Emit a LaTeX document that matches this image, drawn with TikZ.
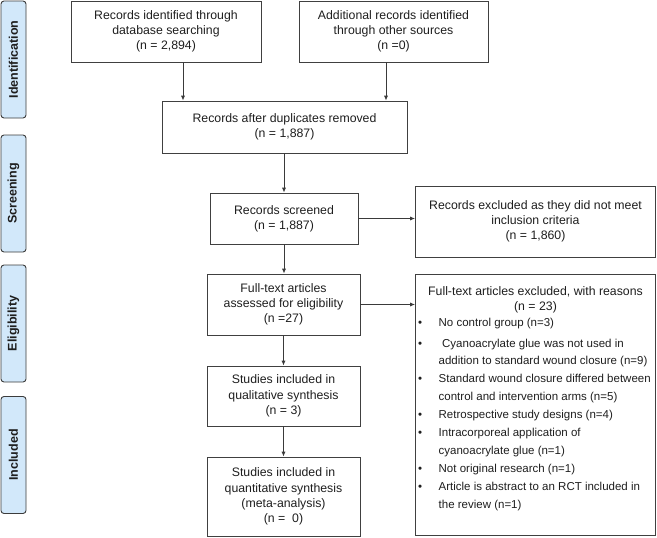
\documentclass[tikz,border=0pt]{standalone}
\usepackage{fontspec}
\setmainfont{Liberation Sans}
\usetikzlibrary{arrows.meta}
\definecolor{sidefill}{HTML}{D2E8FA}
\definecolor{sidec}{HTML}{3C3C3C}
\definecolor{boxc}{HTML}{404040}
\definecolor{linec}{HTML}{3A3A3A}
\definecolor{txtc}{HTML}{1E1E1E}
\newcommand\myMainFont{\fontsize{12.3}{15.3}\selectfont}
\newcommand\myListFont{\fontsize{11.5}{18}\selectfont}
\newcommand\mySideFont{\fontsize{12.5}{14}\selectfont\bfseries}
\newcommand\myBul{\makebox[20.5pt][l]{\fontsize{11.5}{11.5}\selectfont•}}
\newcommand\myInd{\hspace*{20.5pt}}
\begin{document}
\begin{tikzpicture}[x=1pt,y=-1pt,
  box/.style={draw=boxc, line width=0.9pt, align=center, inner sep=0pt,
    font=\myMainFont, text=txtc},
  side/.style={draw=sidec, fill=sidefill, rounded corners=3pt, line width=0.9pt,
    minimum width=25pt, minimum height=117pt, inner sep=0pt},
  sidetext/.style={rotate=90, font=\mySideFont, text=txtc},
  arr/.style={draw=linec, line width=0.9pt, -{Latex[length=5pt,width=4.2pt]}},
  li/.style={anchor=west, inner sep=0pt, font=\myListFont, text=txtc,
    text height=9pt, text depth=3pt},
]
\useasboundingbox (0,0) rectangle (657,538);

% side labels
\node[side] (sid) at (13.5,59.5) {};
\node[sidetext] (sidt) at (sid.center) {Identification};
\node[side] (sscr) at (13.5,193.5) {};
\node[sidetext] (sscrt) at (sscr.center) {Screening};
\node[side] (seli) at (13.5,323.5) {};
\node[sidetext] (selit) at (seli.center) {Eligibility};
\node[side] (sinc) at (13.5,455) {};
\node[sidetext] (sinct) at (sinc.center) {Included};

% boxes
\node[box, minimum width=190pt, minimum height=61pt] (b1) at (166,31.5)
  {Records identified through\\database searching\\(n = 2,894)};
\node[box, minimum width=189pt, minimum height=61pt] (b2) at (393.5,31.5)
  {Additional records identified\\through other sources\\(n =0)};
\node[box, minimum width=245pt, minimum height=52pt] (b3) at (284.5,127)
  {Records after duplicates removed\\(n = 1,887)};
\node[box, minimum width=148pt, minimum height=51pt] (b4) at (284,218.5)
  {Records screened\\(n = 1,887)};
\node[box, minimum width=240pt, minimum height=71pt] (b5) at (535.5,221.5)
  {Records excluded as they did not meet\\inclusion criteria\\(n = 1,860)};
\node[box, minimum width=153pt, minimum height=61pt] (b7) at (283.5,304.5)
  {Full-text articles\\assessed for eligibility\\(n =27)};
\node[box, minimum width=153pt, minimum height=60pt] (b8) at (283.5,396)
  {Studies included in\\qualitative synthesis\\(n = 3)};
\node[box, minimum width=153pt, minimum height=79pt] (b9) at (283.5,496.5)
  {Studies included in\\quantitative synthesis\\(meta-analysis)\\(n =\ \ 0)};
\node[box, minimum width=240pt, minimum height=261pt] (b6) at (535.5,404.5) {};

% contents of exclusion box
\node[font=\myMainFont, text=txtc, align=center, inner sep=0pt] (b6t) at (535.5,299.5)
  {Full-text articles excluded, with reasons\\(n = 23)};
\node[li] (l1) at (418,323) {\myBul No control group (n=3)};
\node[li] (l2) at (418,344) {\myBul\hspace{3.5pt}Cyanoacrylate glue was not used in};
\node[li] (l3) at (418,361.5) {\myInd addition to standard wound closure (n=9)};
\node[li] (l4) at (418,379.5) {\myBul Standard wound closure differed between};
\node[li] (l5) at (418,397.5) {\myInd control and intervention arms (n=5)};
\node[li] (l6) at (418,415.5) {\myBul Retrospective study designs (n=4)};
\node[li] (l7) at (418,433.5) {\myBul Intracorporeal application of};
\node[li] (l8) at (418,451.5) {\myInd cyanoacrylate glue (n=1)};
\node[li] (l9) at (418,469.5) {\myBul Not original research (n=1)};
\node[li] (l10) at (418,487.5) {\myBul Article is abstract to an RCT included in};
\node[li] (l11) at (418,505.5) {\myInd the review (n=1)};

% connectors
\coordinate (a1) at ([xshift=17pt]b1.south);
\coordinate (a2) at ([xshift=-7.5pt]b2.south);
\draw[arr] (a1) -- (a1 |- b3.north);
\draw[arr] (a2) -- (a2 |- b3.north);
\draw[arr] (b4.north |- b3.south) -- (b4.north);
\draw[arr] (b4.east) -- (b4.east -| b5.west);
\draw[arr] (b4.south) -- (b4.south |- b7.north);
\draw[arr] (b7.east) -- (b7.east -| b6.west);
\draw[arr] (b7.south) -- (b8.north);
\draw[arr] (b8.south) -- (b9.north);
\end{tikzpicture}
\end{document}
